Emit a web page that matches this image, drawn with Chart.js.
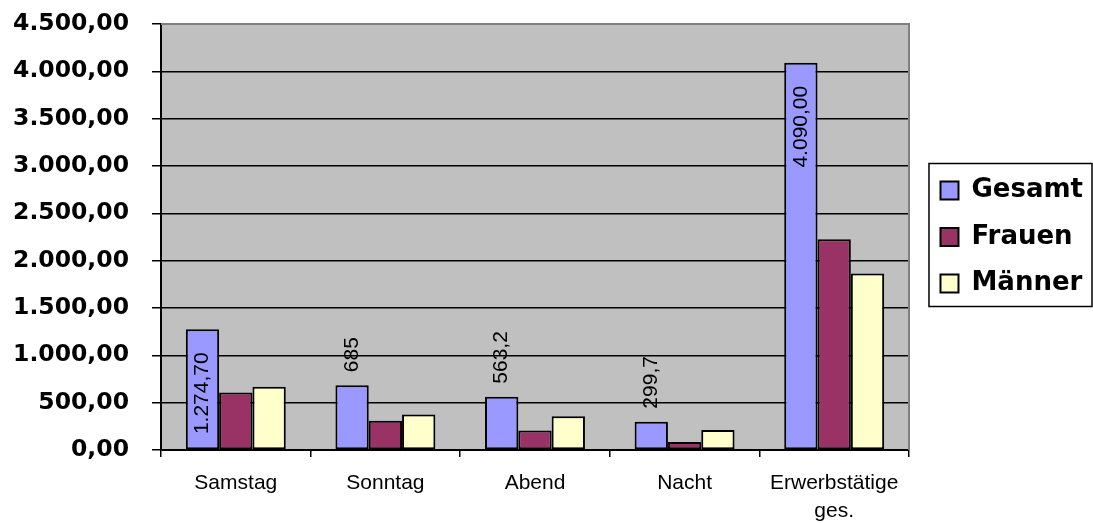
<!DOCTYPE html>
<html lang="de">
<head>
<meta charset="utf-8">
<title>Erwerbstätige: Samstag, Sonntag, Abend, Nacht</title>
<script src="https://cdn.jsdelivr.net/npm/chart.js@4.4.1/dist/chart.umd.min.js"></script>
<style>
  html, body { margin: 0; padding: 0; background: #fff; }
  #wrap { width: 1093px; height: 523px; }
</style>
</head>
<body>
<div id="wrap"><canvas id="chart" width="1093" height="523"></canvas></div>
<script>
// Kategorien (Arbeitszeitlage) und Werte je Reihe
const categories = ['Samstag', 'Sonntag', 'Abend', 'Nacht', ['Erwerbstätige', 'ges.']];
const gesamt  = [1274.7, 685, 563.2, 299.7, 4090];
const frauen  = [608, 309, 206, 85, 2225];
const maenner = [667, 376, 357, 210, 1865];
// Beschriftungen der Gesamt-Säulen
const gesamtLabels = ['1.274,70', '685', '563,2', '299,7', '4.090,00'];
const seriesNames  = ['Gesamt', 'Frauen', 'Männer'];
const seriesColors = ['#9999FF', '#993366', '#FFFFCC'];
const yMin = 0, yMax = 4500, yStep = 500;

// Zahlenformat 4.500,00
function formatDe(v) {
  const parts = Number(v).toFixed(2).split('.');
  return parts[0].replace(/\B(?=(\d{3})+(?!\d))/g, '.') + ',' + parts[1];
}

// grauer Zeichenflächen-Hintergrund und Rahmen oben/rechts
const plotFrame = {
  id: 'plotFrame',
  beforeDraw(chart) {
    const { ctx, chartArea: a } = chart;
    ctx.save();
    ctx.fillStyle = '#C0C0C0';
    ctx.fillRect(a.left, a.top, a.right - a.left, a.bottom - a.top);
    ctx.restore();
  },
  beforeDatasetsDraw(chart) {
    const { ctx, chartArea: a } = chart;
    ctx.save();
    ctx.strokeStyle = '#808080';
    ctx.lineWidth = 2;
    ctx.beginPath();
    ctx.moveTo(a.left, a.top);
    ctx.lineTo(a.right, a.top);
    ctx.lineTo(a.right, a.bottom);
    ctx.stroke();
    ctx.restore();
  }
};

// senkrechte Wertbeschriftungen an den Gesamt-Säulen
const valueLabels = {
  id: 'valueLabels',
  afterDatasetsDraw(chart) {
    const ctx = chart.ctx;
    const meta = chart.getDatasetMeta(0);
    ctx.save();
    ctx.font = '21px "Liberation Sans", Arial, sans-serif';
    ctx.fillStyle = '#000';
    ctx.textBaseline = 'middle';
    meta.data.forEach((bar, i) => {
      const inside = (bar.base - bar.y) > 100;
      ctx.save();
      ctx.translate(bar.x, bar.y);
      ctx.rotate(-Math.PI / 2);
      ctx.textAlign = inside ? 'right' : 'left';
      ctx.fillText(gesamtLabels[i], inside ? -23 : 13, 0);
      ctx.restore();
    });
    ctx.restore();
  }
};

// Rahmen um die Legende
const legendFrame = {
  id: 'legendFrame',
  afterDraw(chart) {
    const lg = chart.legend;
    const boxes = lg && lg.legendHitBoxes;
    if (!boxes || !boxes.length) return;
    const first = boxes[0], last = boxes[boxes.length - 1];
    const x0 = first.left - 11.5;
    const y0 = first.top - 14;
    const x1 = lg.right - 1;
    const y1 = last.top + last.height + 10;
    const ctx = chart.ctx;
    ctx.save();
    ctx.strokeStyle = '#000';
    ctx.lineWidth = 1.5;
    ctx.strokeRect(x0, y0, x1 - x0, y1 - y0);
    ctx.restore();
  }
};

const seriesData = [gesamt, frauen, maenner];

new Chart(document.getElementById('chart'), {
  type: 'bar',
  data: {
    labels: categories,
    datasets: seriesNames.map((name, k) => ({
      label: name,
      data: seriesData[k],
      backgroundColor: seriesColors[k],
      borderColor: '#000',
      borderWidth: 2,
      borderSkipped: false,
      categoryPercentage: 0.668,
      barPercentage: 1
    }))
  },
  options: {
    responsive: false,
    animation: false,
    devicePixelRatio: 1,
    layout: { padding: { top: 24, left: 0, right: 0, bottom: 0 } },
    plugins: {
      legend: {
        position: 'right',
        align: 'center',
        fullSize: false,
        labels: {
          boxWidth: 18,
          boxHeight: 18,
          padding: 20.5,
          color: '#000',
          font: { family: '"DejaVu Sans", sans-serif', size: 26, weight: 'bold' }
        }
      },
      tooltip: { enabled: false },
      title: { display: false }
    },
    scales: {
      x: {
        grid: { display: true, drawOnChartArea: false, drawTicks: true, tickLength: 7, color: '#000', lineWidth: 1.5, offset: true },
        border: { display: true, color: '#000', width: 2 },
        ticks: {
          color: '#000',
          padding: 12,
          maxRotation: 0,
          autoSkip: false,
          font: { family: '"Liberation Sans", Arial, sans-serif', size: 21, lineHeight: 1.35 }
        },
        afterFit(s) { s.height = 73; }
      },
      y: {
        min: yMin,
        max: yMax,
        ticks: {
          stepSize: yStep,
          padding: 23,
          color: '#000',
          font: { family: '"DejaVu Sans", sans-serif', size: 23.5, weight: 'bold' },
          callback: v => formatDe(v)
        },
        grid: { color: '#000', lineWidth: 1.5, tickLength: 9, drawTicks: true },
        border: { display: true, color: '#000', width: 2 },
        afterFit(s) {
          s.width = 161;
          s.paddingTop = 0;
          s.paddingBottom = 0;
        }
      },
      gap: {
        position: 'right',
        display: true,
        grid: { display: false },
        border: { display: false },
        ticks: { display: false },
        afterFit(s) { s.width = 11; }
      }
    }
  },
  plugins: [plotFrame, valueLabels, legendFrame]
});
</script>
</body>
</html>
